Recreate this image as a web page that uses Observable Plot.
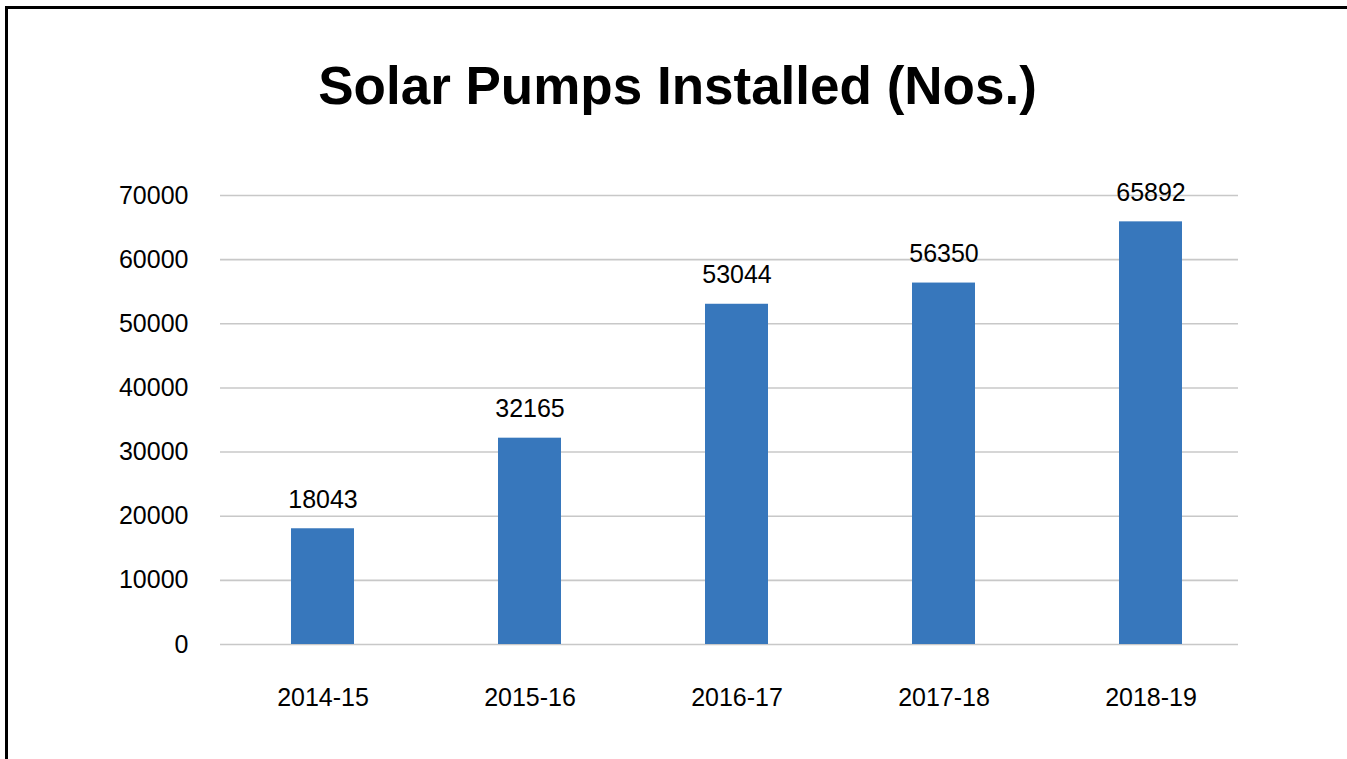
<!DOCTYPE html>
<html>
<head>
<meta charset="utf-8">
<script src="https://cdn.jsdelivr.net/npm/d3@7"></script>
<script src="https://cdn.jsdelivr.net/npm/@observablehq/plot@0.6"></script>
<style>
  html, body { margin: 0; padding: 0; background: #fff; width: 1347px; height: 759px; overflow: hidden; }
  #frameLeft { position: absolute; left: 5px; top: 6px; width: 3px; height: 753px; background: #000; }
  #frameTop { position: absolute; left: 5px; top: 6px; width: 1342px; height: 3px; background: #000; }
  #title { position: absolute; left: 8px; top: 56px; width: 1339px; text-align: center;
           font-family: "Liberation Sans", Arial, sans-serif; font-weight: bold; font-size: 53px;
           line-height: 60px; color: #000; white-space: nowrap; }
  #chart { position: absolute; left: 0; top: 150px; }
</style>
</head>
<body>
<div id="frameLeft"></div>
<div id="frameTop"></div>
<div id="title">Solar Pumps Installed (Nos.)</div>
<div id="chart"></div>
<script>
const years = ["2014-15", "2015-16", "2016-17", "2017-18", "2018-19"];
const pumps = [18043, 32165, 53044, 56350, 65892];
const yTicks = [0, 10000, 20000, 30000, 40000, 50000, 60000, 70000];

const data = years.map((y, i) => ({year: y, value: pumps[i]}));

const chart = Plot.plot({
  width: 1330,
  height: 609,
  marginLeft: 220,
  marginRight: 92,
  marginTop: 45,
  marginBottom: 115,
  style: {fontFamily: "'Liberation Sans', Arial, sans-serif", fontSize: "25px", color: "#000", background: "transparent"},
  x: {domain: years, range: [219, 1254], paddingInner: 0.695, paddingOuter: 0.3475, label: null},
  y: {domain: [0, 70000], label: null},
  marks: [
    Plot.ruleY(yTicks, {stroke: "#c8c8c8", strokeWidth: 1.6}),
    Plot.axisY({ticks: yTicks, tickSize: 0, tickPadding: 32, tickFormat: d => String(d), fontSize: 25, label: null}),
    Plot.axisX({tickSize: 0, tickPadding: 44, fontSize: 25, label: null}),
    Plot.barY(data, {x: "year", y: "value", fill: "#3777bc"}),
    Plot.text(data, {x: "year", y: "value", text: d => String(d.value), lineAnchor: "bottom", dy: -21, fontSize: 25, fill: "#000"})
  ]
});
document.getElementById("chart").appendChild(chart);
</script>
</body>
</html>
